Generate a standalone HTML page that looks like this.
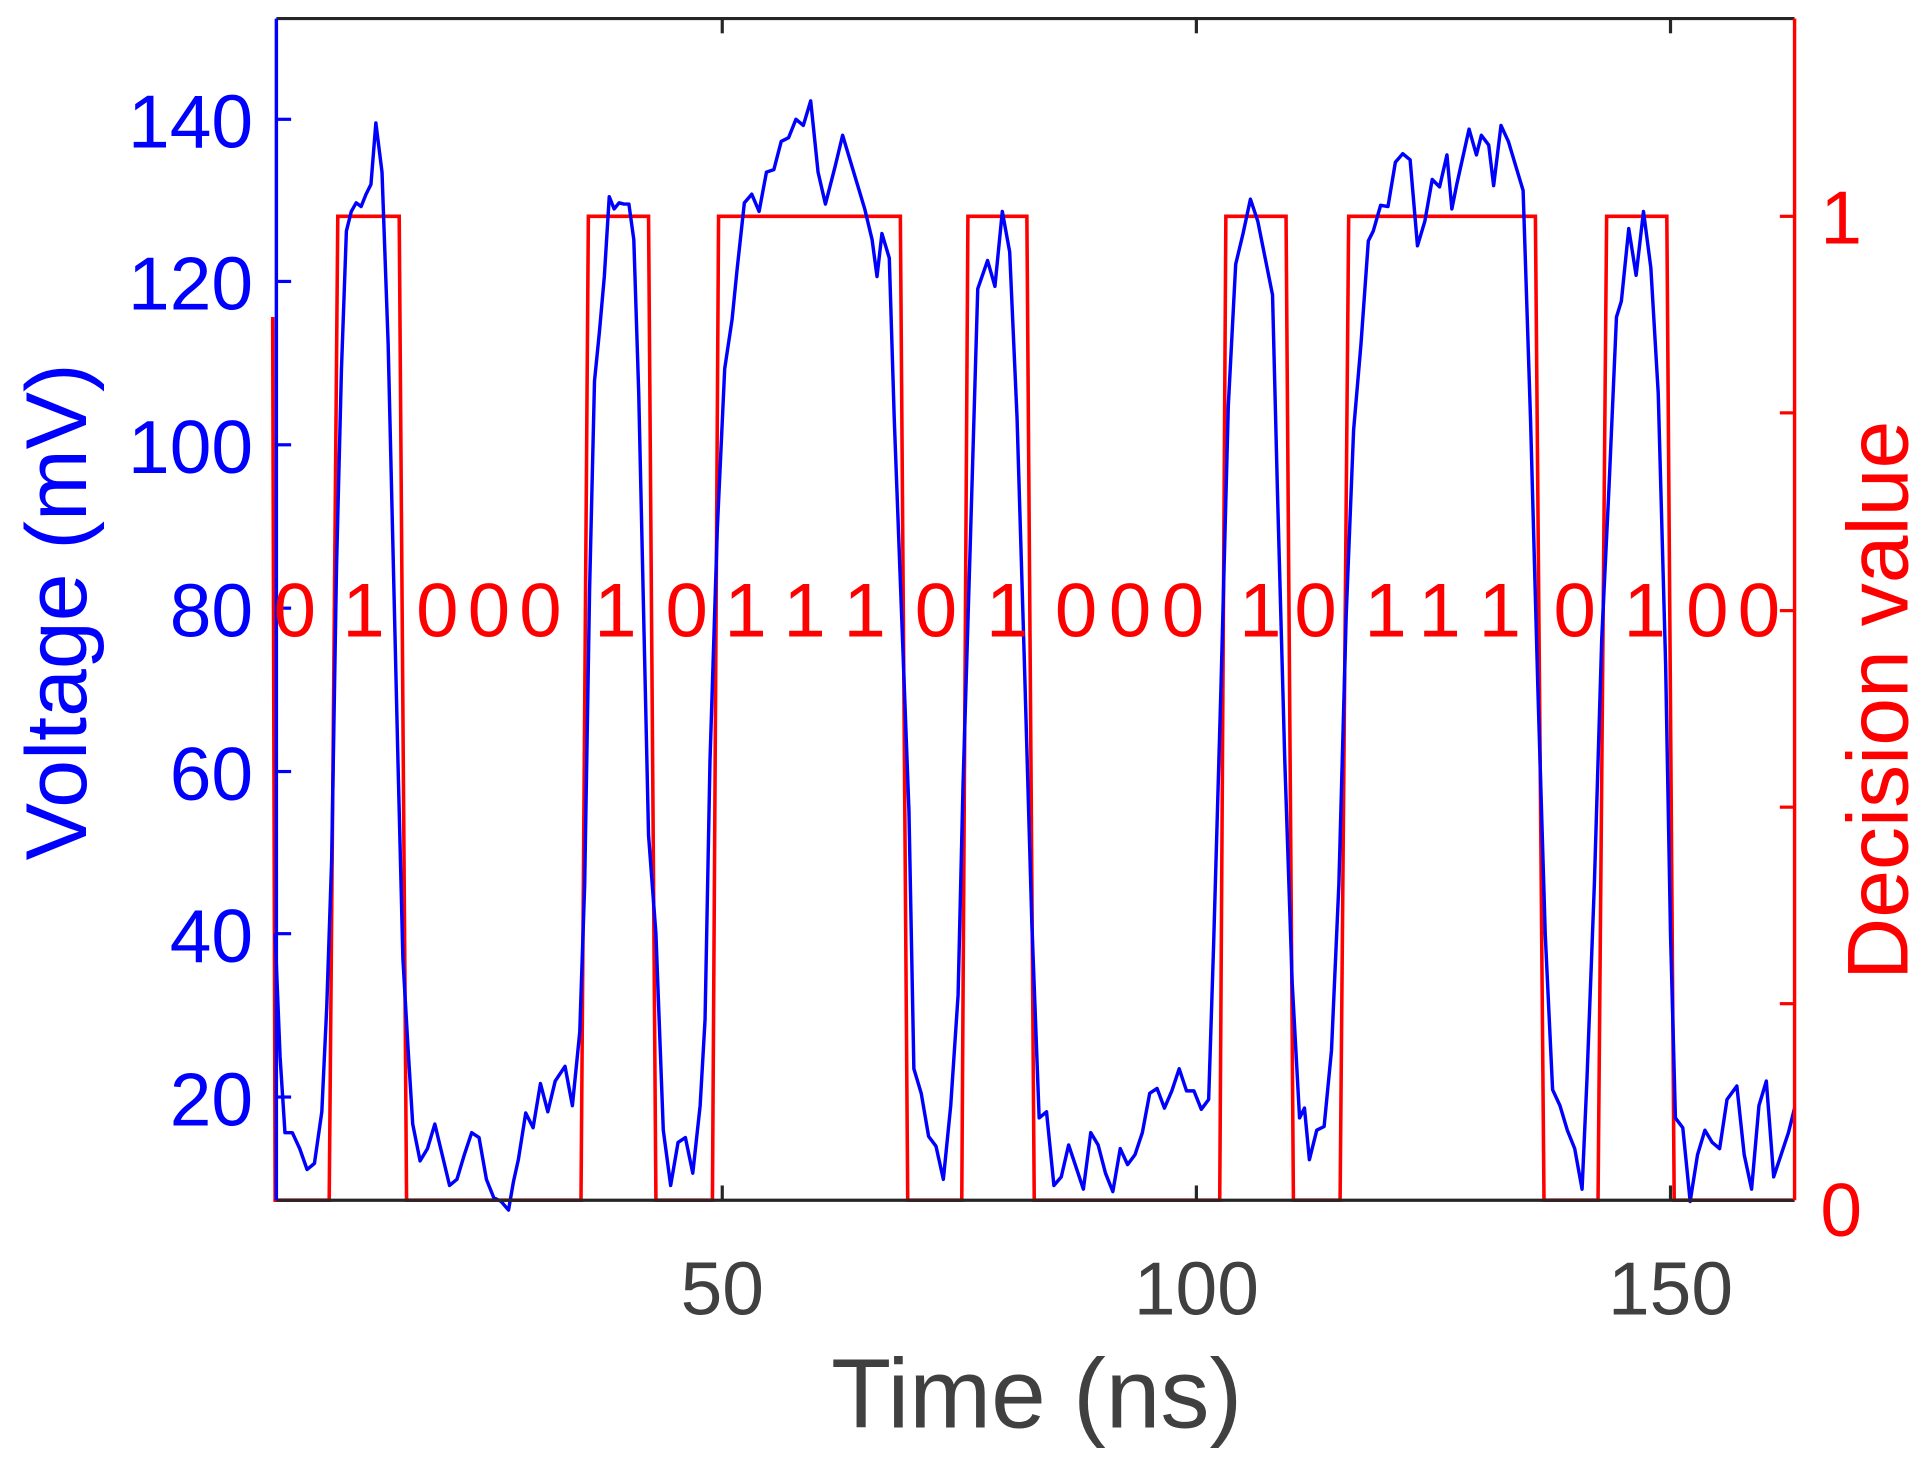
<!DOCTYPE html>
<html><head><meta charset="utf-8"><style>
html,body{margin:0;padding:0;background:#fff;}
svg{display:block;}
text{font-family:"Liberation Sans",Arial,sans-serif;}
</style></head><body>
<svg width="1926" height="1462" viewBox="0 0 1568 1190" xmlns="http://www.w3.org/2000/svg">
<rect width="1568" height="1190" fill="#fff"/>
<!-- red decision -->
<polyline fill="none" stroke="#ff0000" stroke-width="2.9" points="222,258 224,977 268,977 275,176 325,176 331,977 473,977 479,176 528,176 534,977 580,977 585,176 733,176 739,977 783,977 788,176 836,176 842,977 993,977 998,176 1047,176 1053,977 1091,977 1098,176 1250,176 1257,977 1301,977 1308,176 1357,176 1363,977 1461,977"/>
<!-- blue voltage -->
<polyline fill="none" stroke="#0000ff" stroke-width="2.8" stroke-linejoin="round" points="224,760 228,860 232,922 238,922 244,935 250,952 256,947 262,905 266,820 270,700 274,460 278,300 282,188 286,172 290,165 294,168 298,158 302,150 306,100 311,140 316,280 320,450 324,620 328,780 332,850 336,915 342,945 348,935 354,915 360,940 366,965 372,960 378,940 384,922 390,926 396,960 402,975 408,978 414,985 418,962 422,944 428,906 434,918 440,882 446,905 452,880 460,868 466,900 472,840 476,720 480,480 484,310 488,270 492,225 496,160 500,170 504,165 508,166 512,166 516,195 520,320 524,500 528,680 534,760 540,920 546,965 552,930 558,926 564,955 570,900 574,830 578,620 584,430 590,300 596,260 600,220 606,165 612,158 618,172 624,140 630,138 636,115 642,112 648,97 654,102 660,82 666,140 672,166 680,135 686,110 692,130 698,150 704,170 710,195 714,225 718,190 724,210 728,340 734,500 740,660 744,870 750,890 756,925 762,933 768,960 774,900 780,810 784,640 790,440 796,235 804,212 810,233 816,172 822,205 828,340 834,540 840,750 846,910 852,905 858,965 864,958 870,932 876,950 882,968 888,922 894,932 900,955 906,970 912,935 918,948 924,940 930,922 936,890 942,886 948,902 954,888 960,870 966,888 972,888 978,903 984,895 988,770 994,560 1000,330 1006,215 1012,190 1018,162 1024,180 1030,210 1036,240 1040,400 1046,620 1052,800 1058,910 1062,902 1066,944 1072,920 1078,917 1084,855 1090,720 1096,500 1102,350 1108,280 1114,196 1118,188 1124,167 1130,168 1136,132 1142,125 1148,130 1154,200 1160,180 1166,146 1172,152 1178,126 1182,170 1186,150 1192,123 1196,105 1202,126 1206,110 1212,118 1216,151 1222,102 1228,115 1234,135 1240,155 1246,340 1252,560 1258,760 1264,887 1270,900 1276,920 1282,935 1288,968 1292,878 1298,720 1304,520 1310,395 1316,258 1320,245 1326,186 1332,224 1338,172 1344,218 1350,320 1356,540 1360,760 1364,910 1370,918 1376,978 1382,940 1388,920 1394,930 1400,935 1406,895 1414,884 1420,940 1426,968 1432,900 1438,880 1444,958 1450,940 1456,922 1461,902"/>
<!-- axes -->
<line x1="225" y1="15" x2="1461" y2="15" stroke="#262626" stroke-width="2.6"/>
<line x1="225" y1="977" x2="1461" y2="977" stroke="#262626" stroke-width="2.6"/>
<line x1="225" y1="15" x2="225" y2="977" stroke="#0000ff" stroke-width="2.8"/>
<line x1="1461" y1="15" x2="1461" y2="977" stroke="#ff0000" stroke-width="2.8"/>
<g stroke="#262626" stroke-width="2.6">
<line x1="588" y1="977" x2="588" y2="965"/><line x1="974" y1="977" x2="974" y2="965"/><line x1="1360" y1="977" x2="1360" y2="965"/>
<line x1="588" y1="15" x2="588" y2="27"/><line x1="974" y1="15" x2="974" y2="27"/><line x1="1360" y1="15" x2="1360" y2="27"/>
</g>
<g stroke="#0000ff" stroke-width="2.6">
<line x1="225" y1="97" x2="237" y2="97"/><line x1="225" y1="229" x2="237" y2="229"/><line x1="225" y1="362" x2="237" y2="362"/><line x1="225" y1="495" x2="237" y2="495"/><line x1="225" y1="628" x2="237" y2="628"/><line x1="225" y1="760" x2="237" y2="760"/><line x1="225" y1="893" x2="237" y2="893"/>
</g>
<g stroke="#ff0000" stroke-width="2.6">
<line x1="1449" y1="176" x2="1461" y2="176"/><line x1="1449" y1="336" x2="1461" y2="336"/><line x1="1449" y1="497" x2="1461" y2="497"/><line x1="1449" y1="657" x2="1461" y2="657"/><line x1="1449" y1="817" x2="1461" y2="817"/>
</g>
<!-- left tick labels -->
<g fill="#0000ff" font-size="61" text-anchor="end">
<text x="206" y="120">140</text><text x="206" y="252">120</text><text x="206" y="385">100</text><text x="206" y="518">80</text><text x="206" y="651">60</text><text x="206" y="783">40</text><text x="206" y="916">20</text>
</g>
<g fill="#ff0000" font-size="61">
<text x="1482" y="198">1</text><text x="1482" y="1006">0</text>
</g>
<g fill="#404040" font-size="61" text-anchor="middle">
<text x="588" y="1070">50</text><text x="974" y="1070">100</text><text x="1360" y="1070">150</text>
</g>
<text x="844" y="1162" fill="#404040" font-size="80" text-anchor="middle">Time (ns)</text>
<text transform="translate(70,498) rotate(-90)" fill="#0000ff" font-size="70" text-anchor="middle">Voltage (mV)</text>
<text transform="translate(1553,570) rotate(-90)" fill="#ff0000" font-size="70" text-anchor="middle">Decision value</text>
<g fill="#ff0000" font-size="62" text-anchor="middle">
<text x="240" y="518">0</text><text x="296" y="518">1</text><text x="356" y="518">0</text><text x="398" y="518">0</text><text x="440" y="518">0</text><text x="501" y="518">1</text><text x="559" y="518">0</text><text x="607" y="518">1</text><text x="655" y="518">1</text><text x="704" y="518">1</text><text x="762" y="518">0</text><text x="820" y="518">1</text><text x="876" y="518">0</text><text x="920" y="518">0</text><text x="963" y="518">0</text><text x="1026" y="518">1</text><text x="1071" y="518">0</text><text x="1128" y="518">1</text><text x="1172" y="518">1</text><text x="1221" y="518">1</text><text x="1282" y="518">0</text><text x="1339" y="518">1</text><text x="1390" y="518">0</text><text x="1432" y="518">0</text>
</g>
</svg>
</body></html>
